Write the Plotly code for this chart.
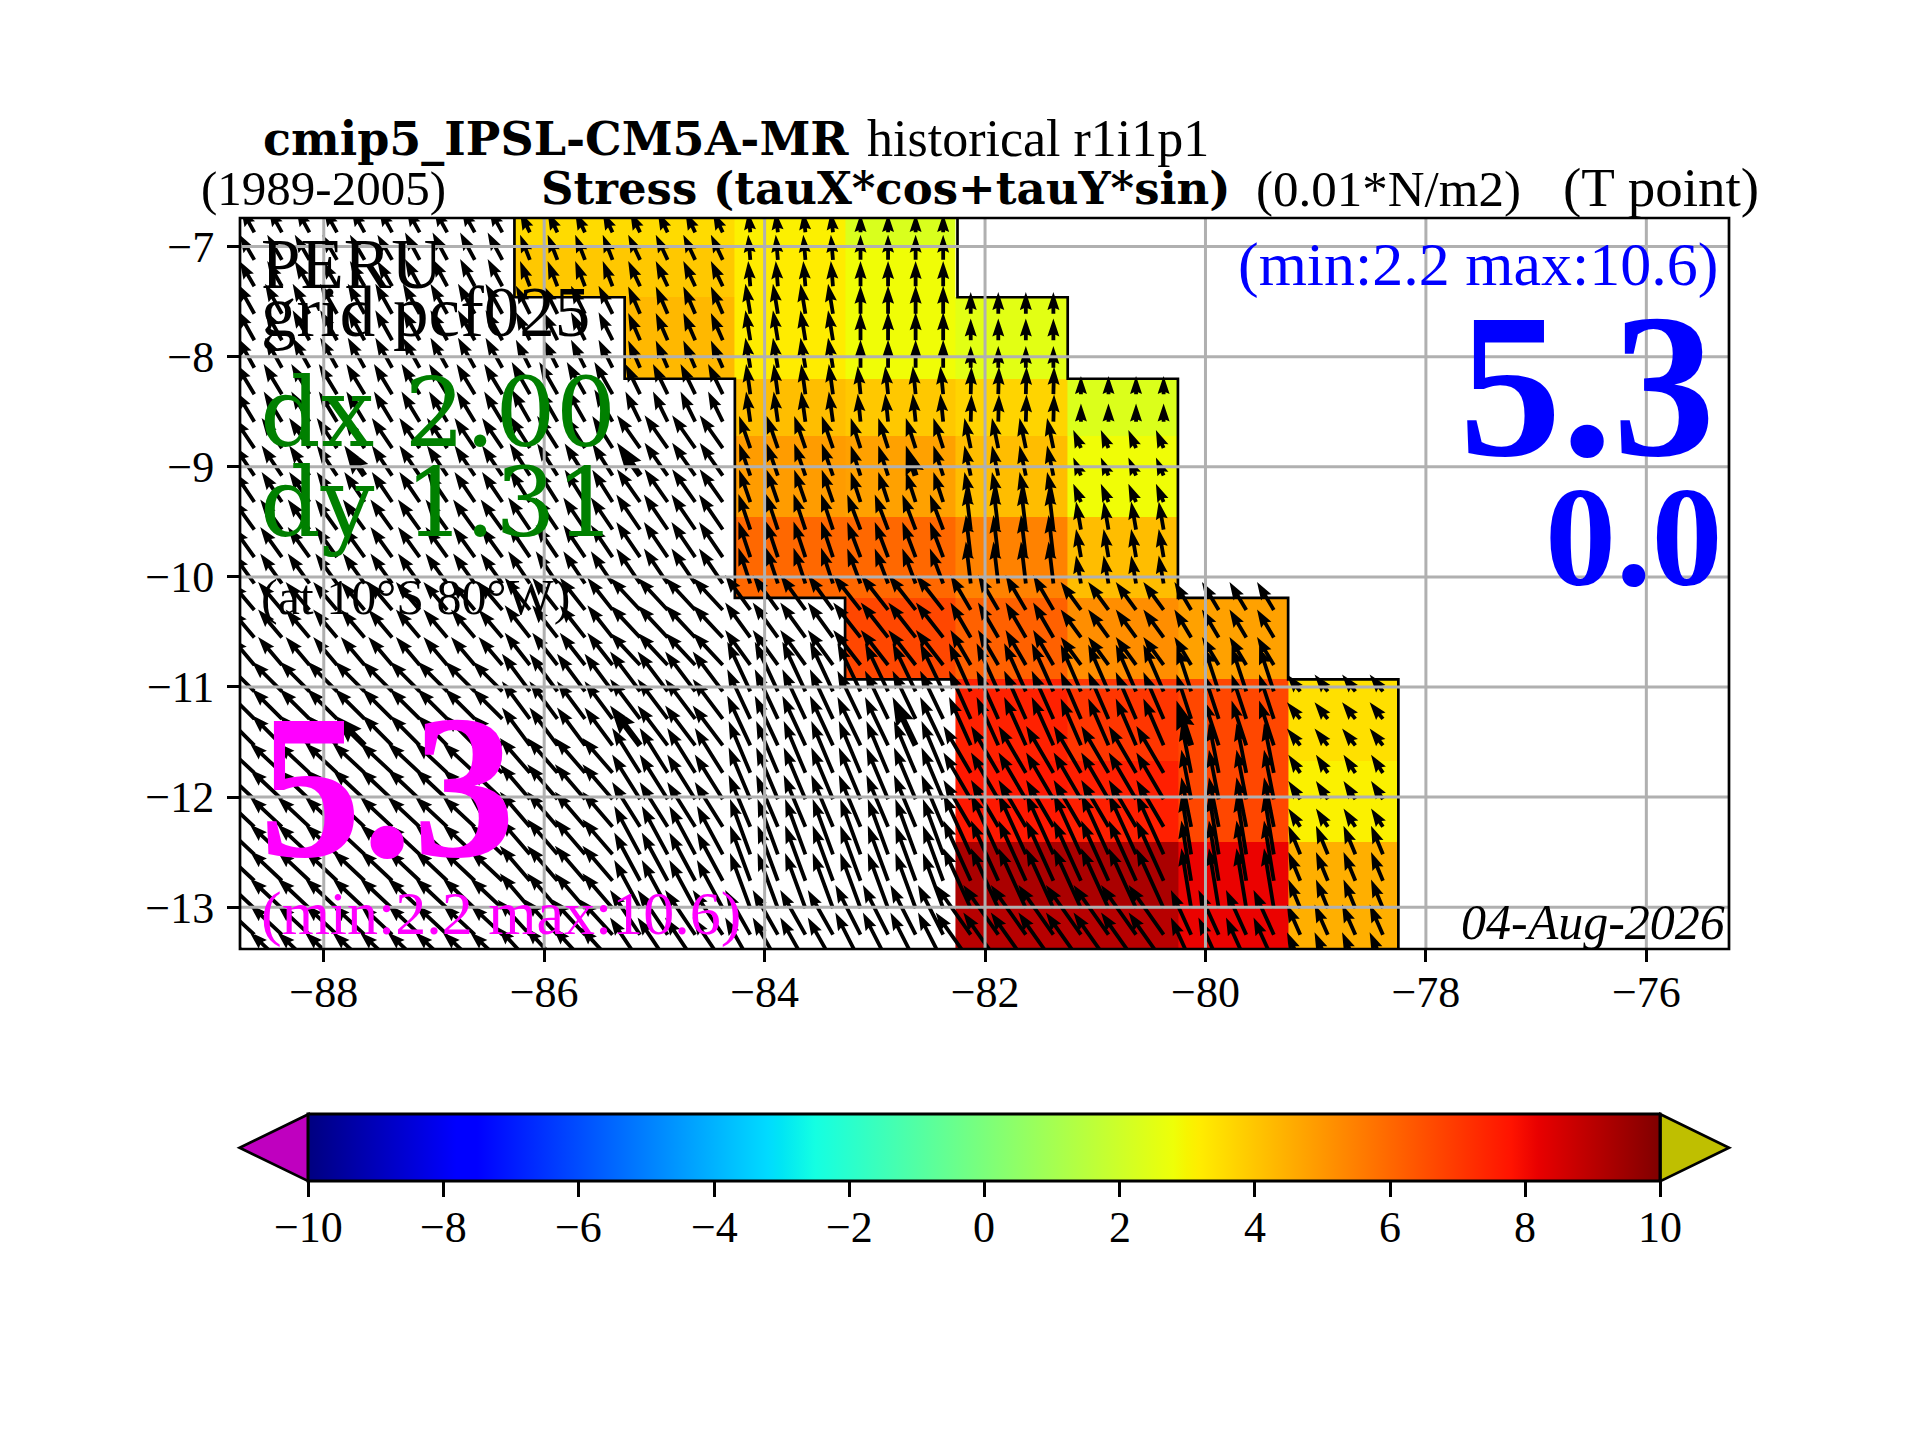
import numpy as np
import plotly.graph_objects as go

# Zellen der Karte (1 Grad breit, Zeilen von oben nach unten)
col_edges = [-86.27, -85.27, -84.27, -83.27, -82.27, -81.25, -80.25, -79.25, -78.25]
row_edges = [-6.74, -7.0, -7.46, -8.2, -8.72, -9.46, -10.19, -10.93, -11.67, -12.41, -13.0, -13.38]

stress = [
    [3.55, 3.55, 3.12, 2.3, None, None, None, None],
    [3.96, 3.96, 3.2, 2.85, None, None, None, None],
    [None, 4.3, 3.2, 2.85, 2.5, None, None, None],
    [None, None, 4.18, 3.96, 3.7, 2.35, None, None],
    [None, None, 4.9, 4.8, 4.2, 2.85, None, None],
    [None, None, 6.0, 6.0, 5.45, 4.2, None, None],
    [None, None, None, 6.7, 6.15, 5.2, 4.8, None],
    [None, None, None, None, 7.5, 7.05, 6.7, 3.45],
    [None, None, None, None, 7.7, 7.55, 6.7, 3.1],
    [None, None, None, None, 9.27, 9.27, 8.15, 4.5],
    [None, None, None, None, 9.05, 9.05, 8.15, 4.5],
]

# Pfeile: Blockwerte in 0.01 N/m2, Spalten -89.25 bis -78.25
arrow_col_edges = [-89.25, -88.25, -87.25, -86.25, -85.25, -84.25, -83.25, -82.25, -81.25, -80.25, -79.25, -78.25]
tau_x = [
    [-1.9, -1.9, -1.9, -1.4, -1.4, -0.3, 0.0, None, None, None, None],
    [-2.1, -2.1, -2.1, -1.4, -1.7, -0.3, 0.0, None, None, None, None],
    [-2.4, -2.4, -2.4, -2.0, -1.7, -0.7, 0.0, 0.0, None, None, None],
    [-2.6, -2.6, -2.6, -2.6, -2.1, -0.6, -0.4, 0.1, 0.0, None, None],
    [-2.9, -2.9, -2.9, -2.9, -3.3, -1.6, -1.4, -0.9, -1.1, None, None],
    [-3.1, -3.1, -3.1, -3.1, -3.4, -1.7, -1.9, -0.7, -0.7, None, None],
    [-3.4, -3.4, -3.4, -3.6, -4.3, -3.6, -3.9, -2.9, -2.9, -2.4, None],
    [-4.3, -4.3, -4.3, -4.0, -4.3, -3.3, -3.3, -3.1, -2.9, -2.1, -1.9],
    [-4.6, -4.6, -4.6, -4.3, -4.0, -3.1, -3.1, -3.9, -3.9, -1.4, -1.7],
    [-4.6, -4.6, -4.6, -4.3, -3.7, -2.9, -2.9, -3.9, -3.9, -1.4, -1.7],
    [-4.6, -4.6, -4.6, -4.6, -4.3, -3.6, -3.6, -5.0, -5.0, -2.9, -1.9],
]
tau_y = [
    [3.4, 3.4, 3.4, 2.9, 2.9, 2.9, 2.6, None, None, None, None],
    [3.6, 3.6, 3.9, 3.6, 3.6, 3.6, 3.6, None, None, None, None],
    [4.3, 4.3, 4.3, 4.0, 3.9, 4.3, 4.0, 3.1, None, None, None],
    [4.3, 4.3, 4.3, 4.6, 4.3, 4.3, 4.0, 3.9, 2.6, None, None],
    [4.3, 4.3, 4.3, 4.6, 4.7, 4.6, 4.3, 4.3, 2.6, None, None],
    [4.3, 4.3, 4.3, 4.6, 5.0, 5.1, 5.0, 6.0, 4.0, None, None],
    [4.0, 4.0, 4.0, 4.6, 4.6, 5.0, 5.0, 5.0, 4.0, 4.0, None],
    [4.3, 4.3, 4.3, 5.4, 5.7, 7.1, 6.9, 6.9, 6.7, 6.4, 2.4],
    [4.3, 4.3, 4.3, 5.0, 6.4, 7.4, 7.4, 6.7, 6.7, 7.1, 2.6],
    [4.3, 4.3, 4.3, 5.0, 6.9, 7.9, 7.9, 8.6, 8.6, 8.6, 4.1],
    [4.3, 4.3, 4.3, 5.0, 6.4, 6.4, 7.1, 7.1, 7.1, 6.4, 4.3],
]

arrow_lons = [-88.63, -88.38, -88.13, -87.88, -87.63, -87.38, -87.13, -86.88, -86.63, -86.38, -86.13, -85.88, -85.63, -85.38,
              -85.13, -84.88, -84.63, -84.38, -84.13, -83.88, -83.63, -83.38, -83.13, -82.88, -82.63, -82.38, -82.13, -81.88,
              -81.63, -81.38, -81.13, -80.88, -80.63, -80.38, -80.13, -79.88, -79.63, -79.38, -79.14, -78.89, -78.64, -78.39]
arrow_lats = [-6.87, -7.12, -7.36, -7.61, -7.85, -8.10, -8.34, -8.59, -8.83, -9.08, -9.32, -9.57, -9.82, -10.06,
              -10.30, -10.55, -10.80, -11.04, -11.29, -11.53, -11.78, -12.02, -12.27, -12.52, -12.76, -13.01, -13.25, -13.50]
arrow_rows = [0, 1, 1, 2, 2, 2, 3, 3, 4, 4, 4, 5, 5, 5, 6, 6, 6, 7, 7, 7, 8, 8, 8, 9, 9, 9, 10, 10]

# die dickeren Pfeile
big_lons = [-87.63, -85.13, -82.63, -87.63, -85.13, -82.63, -80.13]
big_lats = [-9.08, -9.08, -9.08, -11.53, -11.53, -11.53, -11.53]

# Kuestenlinie
coast_west_lon = [-86.27, -86.27, -85.27, -85.27, -84.27, -84.27, -83.27, -83.27, -82.27]
coast_west_lat = [-6.74, -7.46, -7.46, -8.2, -8.2, -10.19, -10.19, -10.93, -10.93]
coast_east_lon = [-82.25, -82.25, -81.25, -81.25, -80.25, -80.25, -79.25, -79.25, -78.25, -78.25]
coast_east_lat = [-6.74, -7.46, -7.46, -8.2, -8.2, -10.19, -10.19, -10.93, -10.93, -13.38]

x_ticks = [-88, -86, -84, -82, -80, -78, -76]
y_ticks = [-13, -12, -11, -10, -9, -8, -7]
bar_ticks = [-10, -8, -6, -4, -2, 0, 2, 4, 6, 8, 10]

jet = [
    [0.0, "rgb(0,0,128)"], [0.11, "rgb(0,0,255)"], [0.125, "rgb(0,0,255)"], [0.34, "rgb(0,219,255)"],
    [0.35, "rgb(0,229,245)"], [0.375, "rgb(20,255,226)"], [0.64, "rgb(238,255,8)"], [0.65, "rgb(247,245,0)"],
    [0.66, "rgb(255,236,0)"], [0.89, "rgb(255,19,0)"], [0.91, "rgb(232,0,0)"], [1.0, "rgb(128,0,0)"],
]

# Plotbereich in Pixel der Bildschirmseite, die Seite hat 8px Rand
PAGE = 8
WIDTH, HEIGHT = 1920 - PAGE, 1440 - PAGE
LEFT, RIGHT, TOP, BOTTOM = 240, 1729, 217.5, 949.5
PX = 1 / 110.2  # Grad pro Pixel
UNIT = 7 * PX   # Pfeillaenge pro Einheit
SERIF = "Liberation Serif"
WIDE = "DejaVu Serif"


def paper_x(px):
    return (px - LEFT) / (RIGHT - LEFT)


def paper_y(py):
    return (BOTTOM - py) / (BOTTOM - TOP)


def arrow_polygon(lon, lat, u, v, big=1.0):
    # Form wie ein matplotlib quiver Pfeil
    length = np.hypot(u, v) * UNIT
    ux, uy = u * UNIT / length, v * UNIT / length
    px_, py_ = -uy, ux
    head = 18 * PX * big
    half_head = 6.0 * PX * big
    half_shaft = 1.9 * PX * big
    if length < head:
        shrink = length / head
        head, half_head, half_shaft = head * shrink, half_head * shrink, half_shaft * shrink
    notch = length - head * 0.9
    wing = length - head
    pts = [(0, half_shaft), (notch, half_shaft), (wing, half_head), (length, 0),
           (wing, -half_head), (notch, -half_shaft), (0, -half_shaft), (0, half_shaft)]
    xs = [lon + a * ux + b * px_ for a, b in pts]
    ys = [lat + a * uy + b * py_ for a, b in pts]
    return xs + [None], ys + [None]


def make_arrows():
    xs, ys = [], []
    for lat, row in zip(arrow_lats, arrow_rows):
        for lon in arrow_lons:
            col = int(np.searchsorted(arrow_col_edges, lon)) - 1
            u, v = tau_x[row][col], tau_y[row][col]
            if u is None:
                continue
            ax, ay = arrow_polygon(lon, lat, u, v)
            xs += ax
            ys += ay
    for lon, lat in zip(big_lons, big_lats):
        row = arrow_rows[arrow_lats.index(lat)]
        col = int(np.searchsorted(arrow_col_edges, lon)) - 1
        ax, ay = arrow_polygon(lon, lat, tau_x[row][col], tau_y[row][col], big=1.6)
        xs += ax
        ys += ay
    return xs, ys


def label(x, baseline, text, size, color="black", anchor="left", family=SERIF):
    # Plotly setzt die Box, deshalb Grundlinie + Unterlaenge
    return dict(x=paper_x(x), y=paper_y(baseline + 3 + 0.22 * size), xref="paper", yref="paper", text=text,
                showarrow=False, xanchor=anchor, yanchor="bottom", borderpad=0,
                font=dict(family=family, size=size, color=color))


fig = go.Figure()

fig.add_trace(go.Heatmap(
    x=col_edges, y=row_edges[::-1], z=stress[::-1], colorscale=jet, zmin=-10, zmax=10, hoverongaps=False,
    colorbar=dict(
        orientation="h", lenmode="pixels", len=1352, thickness=67, thicknessmode="pixels",
        x=paper_x(308.4), xanchor="left", y=paper_y(1115), yanchor="top", xpad=0, ypad=0,
        outlinewidth=3, outlinecolor="black", tickmode="array", tickvals=bar_ticks,
        ticks="outside", ticklen=15, tickwidth=2.7, tickcolor="black", showticklabels=False,
    ),
))

for lon, lat in [(coast_west_lon, coast_west_lat), (coast_east_lon, coast_east_lat)]:
    fig.add_trace(go.Scatter(x=lon, y=lat, mode="lines", line=dict(color="black", width=2.7),
                             hoverinfo="skip", showlegend=False))

arrow_x, arrow_y = make_arrows()
fig.add_trace(go.Scatter(x=arrow_x, y=arrow_y, mode="lines", fill="toself", fillcolor="black",
                         line=dict(color="black", width=0), hoverinfo="skip", showlegend=False))

# Gitter liegt im Original ueber den Pfeilen
grid_x, grid_y = [], []
for t in x_ticks:
    grid_x += [t, t, None]
    grid_y += [-13.38, -6.74, None]
for t in y_ticks:
    grid_x += [-88.76, -75.25, None]
    grid_y += [t, t, None]
fig.add_trace(go.Scatter(x=grid_x, y=grid_y, mode="lines", line=dict(color="#b0b0b0", width=3),
                         hoverinfo="skip", showlegend=False))

annotations = [
    label(262, 153, "<b>cmip5_IPSL-CM5A-MR</b>", 46, family=WIDE),
    label(866, 153, "historical r1i1p1", 52),
    label(200, 203, "(1989-2005)", 49),
    label(540, 203, "<b>Stress (tauX*cos+tauY*sin)</b>", 45, family=WIDE),
    label(1255, 203, "(0.01*N/m2)", 51),
    label(1562, 203, "(T point)", 55),
    label(260, 285, "PERU", 71),
    label(260, 333, "grid pcf025", 71),
    label(259, 445, "dx 2.00", 95, "green", family=WIDE),
    label(259, 535, "dy 1.31", 95, "green", family=WIDE),
    label(260, 612, "(at 10°S 80°W)", 50),
    label(1719, 283, "(min:2.2 max:10.6)", 62, "blue", "right"),
    label(1716, 452, "<b>5.3</b>", 205, "blue", "right"),
    label(1724, 583, "<b>0.0</b>", 142, "blue", "right"),
    label(258, 853, "<b>5.3</b>", 205, "magenta"),
    label(260, 933, "(min:2.2 max:10.6)", 62, "magenta"),
    label(1726, 938, "<i>04-Aug-2026</i>", 50, "black", "right"),
]

# Beschriftung Farbbalken
for t in bar_ticks:
    text = str(t).replace("-", "\u2212")
    annotations.append(label(308.4 + (t + 10) / 20 * 1352, 1241, text, 44, anchor="center"))

shapes = [
    # Rahmen
    dict(type="rect", xref="paper", yref="paper", x0=0, x1=1, y0=0, y1=1, layer="above",
         line=dict(color="black", width=2.7)),
    # Dreiecke am Farbbalken
    dict(type="path", xref="paper", yref="paper", fillcolor="#bf00bf", line=dict(color="black", width=2.7),
         path=f"M {paper_x(308.4)},{paper_y(1115)} L {paper_x(239.6)},{paper_y(1148.5)} L {paper_x(308.4)},{paper_y(1182)} Z"),
    dict(type="path", xref="paper", yref="paper", fillcolor="#bfbf00", line=dict(color="black", width=2.7),
         path=f"M {paper_x(1660.4)},{paper_y(1115)} L {paper_x(1729)},{paper_y(1148.5)} L {paper_x(1660.4)},{paper_y(1182)} Z"),
]

axis_style = dict(showgrid=False, zeroline=False, showline=False,
                  ticks="outside", ticklen=12, tickwidth=2.7, tickcolor="black",
                  tickfont=dict(family=SERIF, size=44, color="black"))

fig.update_layout(
    width=WIDTH, height=HEIGHT, paper_bgcolor="white", plot_bgcolor="white", showlegend=False,
    margin=dict(l=LEFT - PAGE, r=1920 - RIGHT, t=TOP - PAGE, b=1440 - BOTTOM, autoexpand=False),
    annotations=annotations, shapes=shapes,
    xaxis=dict(range=[-88.76, -75.25], tickmode="array", tickvals=x_ticks, ticklabelstandoff=-8, **axis_style),
    yaxis=dict(range=[-13.38, -6.74], tickmode="array", tickvals=y_ticks, ticklabelstandoff=4, **axis_style),
)

fig.write_html("out.html")
